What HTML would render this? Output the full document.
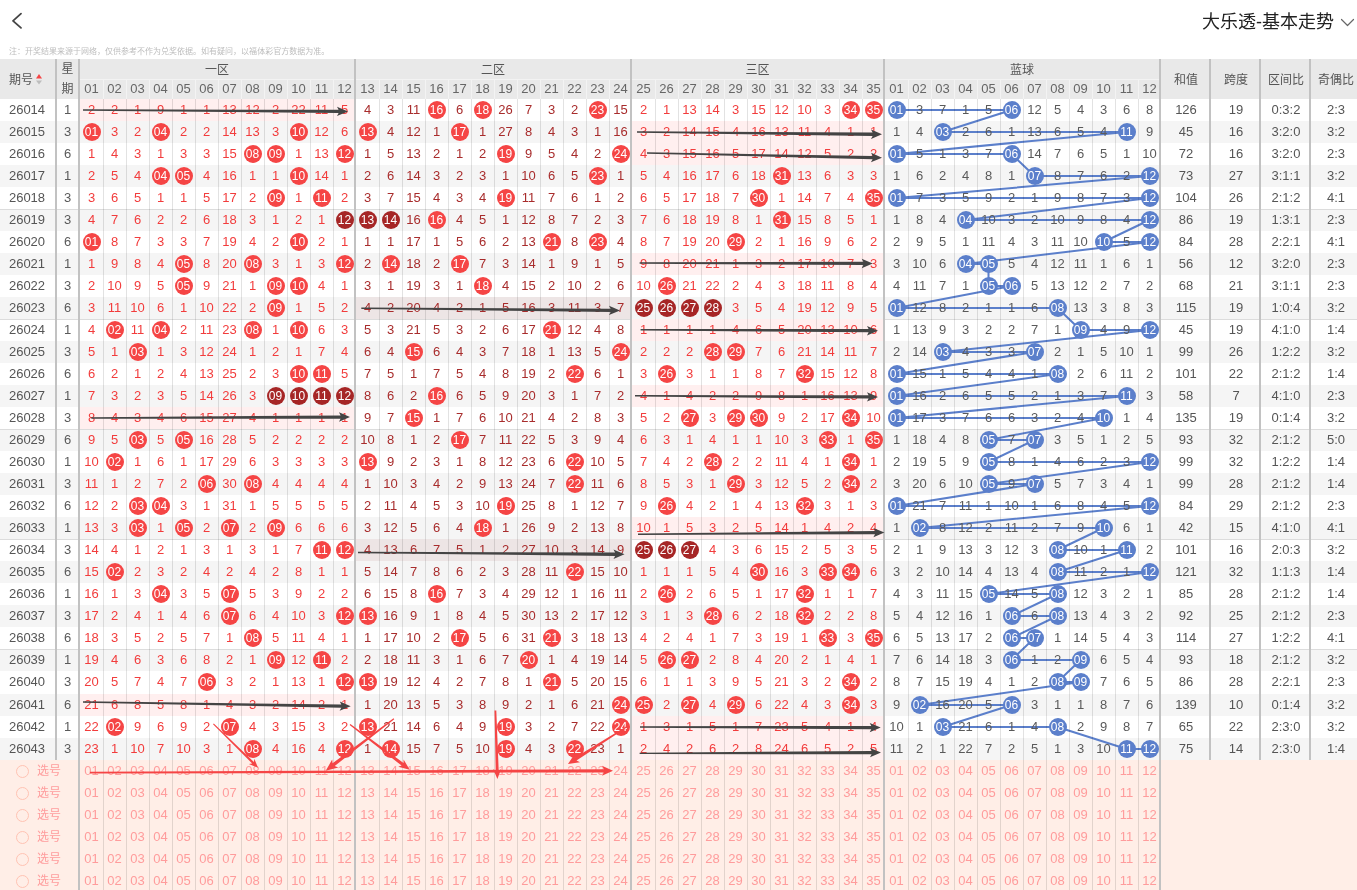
<!DOCTYPE html>
<html lang="zh-CN"><head><meta charset="utf-8"><title>大乐透-基本走势</title>
<style>
html,body{margin:0;padding:0}
body{width:1357px;height:890px;overflow:hidden;background:#fff;position:relative;
 font-family:"Liberation Sans","Noto Sans CJK SC",sans-serif;font-size:13px;color:#444}
.abs{position:absolute}
#title{position:absolute;right:23px;top:8px;height:28px;line-height:28px;font-size:18px;color:#222;white-space:nowrap}
#note{position:absolute;left:9px;top:42px;height:18px;line-height:18px;font-size:12px;color:#bdbdbd;white-space:nowrap;
 transform:scale(.667);transform-origin:0 50%}
#head{position:absolute;left:0;top:59px;width:1361px;height:40px;background:#e9e9e9;color:#555;font-size:12px}
#head .z{position:absolute;top:0;height:20px;line-height:23px;text-align:center}
#head .n{position:absolute;top:20px;height:20px;line-height:20px;width:23px;text-align:center;font-size:13px;color:#666}
#head .st{position:absolute;top:1px;height:40px;line-height:40px;width:50px;text-align:center}
.r{position:absolute;left:0;width:1361px;height:22px;line-height:22px;display:flex;white-space:nowrap}
.sp{position:absolute;left:0;width:1361px;background:#f5f5f5}
.gs{position:absolute;left:0;width:1361px;height:1px;background:#dcdcdc}
.r i{font-style:normal;display:block;width:23px;text-align:center;flex:none}
.r .q{width:54px;margin-right:3px;color:#555}
.r .w{width:21px;margin-right:2px;color:#5a5a5a}
.r .t{width:49px;margin-right:1px;color:#555;position:relative;left:.5px}
.a{color:#f23c3c}
.b{color:#a82c2c}
.c{color:#5a5a5a}
.r b{font-weight:normal;display:block;width:18px;height:18px;line-height:18px;margin:2px auto 0;border-radius:50%;
 color:#fff;font-size:12px;background:#f54545;position:relative;z-index:3;text-align:center}
.r b.d{background:#a62626}
.r b.u{background:#5b7fcb}
.e{background:#ffefef}
.f{background:#ede5e5}
.vl{position:absolute;width:1px;background:rgba(0,0,0,.115)}
.vt{position:absolute;width:2px;background:#c2c2c2;z-index:4}
.hv{position:absolute;width:1px;top:79px;height:20px;background:#f3f3f3}
#sel{position:absolute;left:0;top:760px;width:1357px;height:130px;background:#ffeee7}
.s{position:absolute;left:0;width:1361px;height:22px;line-height:22px;display:flex;color:#ff9c9c;white-space:nowrap}
.s i{font-style:normal;display:block;width:23px;text-align:center;flex:none}
.s .x{width:80px;position:relative;font-size:12px;text-align:left}
.s .x:before{content:"";position:absolute;left:16px;top:5px;width:11px;height:11px;border:1px solid #ffc3b3;border-radius:50%}
.s .x span{position:absolute;left:37px;top:0}
svg{position:absolute;left:0;top:0}
</style></head><body>
<svg width="40" height="40" style="z-index:1"><polyline points="21,13.7 13,20.8 21,27.9" fill="none" stroke="#444" stroke-width="1.8" stroke-linecap="round" stroke-linejoin="round"/></svg>
<div id="title">大乐透-基本走势</div>
<svg width="1357" height="40" style="z-index:1"><polyline points="1341.5,19.5 1347.5,25.5 1353.5,19.5" fill="none" stroke="#666" stroke-width="1.2" stroke-linecap="round" stroke-linejoin="round"/></svg>
<div id="note">注：开奖结果来源于网络，仅供参考不作为兑奖依据。如有疑问，以福体彩官方数据为准。</div>
<div id="head">
<div class="abs" style="left:9px;top:1px;height:40px;line-height:40px">期号</div>
<svg width="60" height="40"><polygon points="36,19.5 42,19.5 39,15" fill="#f54545"/><polygon points="36,21.5 42,21.5 39,25.5" fill="#bdbdbd"/></svg>
<div class="abs" style="left:57px;width:21px;top:0;height:20px;line-height:21px;text-align:center">星</div>
<div class="abs" style="left:57px;width:21px;top:20px;height:20px;line-height:20px;text-align:center">期</div>
<div class="z" style="left:80px;width:274px">一区</div>
<div class="abs" style="left:80px;width:274px;top:20px;height:1px;background:#f3f3f3"></div>
<div class="z" style="left:356px;width:274px">二区</div>
<div class="abs" style="left:356px;width:274px;top:20px;height:1px;background:#f3f3f3"></div>
<div class="z" style="left:632px;width:251px">三区</div>
<div class="abs" style="left:632px;width:251px;top:20px;height:1px;background:#f3f3f3"></div>
<div class="z" style="left:885px;width:274px">蓝球</div>
<div class="abs" style="left:885px;width:274px;top:20px;height:1px;background:#f3f3f3"></div>
<div class="n" style="left:80px">01</div>
<div class="n" style="left:103px">02</div>
<div class="n" style="left:126px">03</div>
<div class="n" style="left:149px">04</div>
<div class="n" style="left:172px">05</div>
<div class="n" style="left:195px">06</div>
<div class="n" style="left:218px">07</div>
<div class="n" style="left:241px">08</div>
<div class="n" style="left:264px">09</div>
<div class="n" style="left:287px">10</div>
<div class="n" style="left:310px">11</div>
<div class="n" style="left:333px">12</div>
<div class="n" style="left:356px">13</div>
<div class="n" style="left:379px">14</div>
<div class="n" style="left:402px">15</div>
<div class="n" style="left:425px">16</div>
<div class="n" style="left:448px">17</div>
<div class="n" style="left:471px">18</div>
<div class="n" style="left:494px">19</div>
<div class="n" style="left:517px">20</div>
<div class="n" style="left:540px">21</div>
<div class="n" style="left:563px">22</div>
<div class="n" style="left:586px">23</div>
<div class="n" style="left:609px">24</div>
<div class="n" style="left:632px">25</div>
<div class="n" style="left:655px">26</div>
<div class="n" style="left:678px">27</div>
<div class="n" style="left:701px">28</div>
<div class="n" style="left:724px">29</div>
<div class="n" style="left:747px">30</div>
<div class="n" style="left:770px">31</div>
<div class="n" style="left:793px">32</div>
<div class="n" style="left:816px">33</div>
<div class="n" style="left:839px">34</div>
<div class="n" style="left:862px">35</div>
<div class="n" style="left:885px">01</div>
<div class="n" style="left:908px">02</div>
<div class="n" style="left:931px">03</div>
<div class="n" style="left:954px">04</div>
<div class="n" style="left:977px">05</div>
<div class="n" style="left:1000px">06</div>
<div class="n" style="left:1023px">07</div>
<div class="n" style="left:1046px">08</div>
<div class="n" style="left:1069px">09</div>
<div class="n" style="left:1092px">10</div>
<div class="n" style="left:1115px">11</div>
<div class="n" style="left:1138px">12</div>
<div class="st" style="left:1161px">和值</div>
<div class="st" style="left:1211px">跨度</div>
<div class="st" style="left:1261px">区间比</div>
<div class="st" style="left:1311px">奇偶比</div>
</div>
<div id="sel"></div>
<div class="sp" style="top:121px;height:22px"></div>
<div class="sp" style="top:165px;height:22px"></div>
<div class="sp" style="top:209px;height:22px"></div>
<div class="gs" style="top:209px"></div>
<div class="sp" style="top:253px;height:22px"></div>
<div class="sp" style="top:297px;height:22px"></div>
<div class="gs" style="top:319px"></div>
<div class="sp" style="top:341px;height:22px"></div>
<div class="sp" style="top:385px;height:22px"></div>
<div class="sp" style="top:429px;height:22px"></div>
<div class="gs" style="top:429px"></div>
<div class="sp" style="top:473px;height:22px"></div>
<div class="sp" style="top:517px;height:22px"></div>
<div class="gs" style="top:539px"></div>
<div class="sp" style="top:561px;height:22px"></div>
<div class="sp" style="top:605px;height:22px"></div>
<div class="sp" style="top:649px;height:22px"></div>
<div class="gs" style="top:649px"></div>
<div class="sp" style="top:694px;height:22px"></div>
<div class="sp" style="top:738px;height:22px"></div>
<svg width="1357" height="890"><polyline fill="none" stroke="#5b7fcb" stroke-width="2" stroke-linejoin="round" points="896.5,110.0 1011.5,110.0 942.5,132.0 1126.5,132.0 896.5,154.0 1011.5,154.0 1034.5,176.0 1149.5,176.0 896.5,198.0 1149.5,198.0 965.5,220.0 1149.5,220.0 1103.5,242.0 1149.5,242.0 965.5,264.0 988.5,264.0 988.5,286.0 1011.5,286.0 896.5,308.0 1057.5,308.0 1080.5,330.0 1149.5,330.0 942.5,352.0 1034.5,352.0 896.5,374.0 1057.5,374.0 896.5,396.0 1126.5,396.0 896.5,418.0 1103.5,418.0 988.5,440.0 1034.5,440.0 988.5,462.0 1149.5,462.0 988.5,484.0 1034.5,484.0 896.5,506.0 1149.5,506.0 919.5,528.0 1103.5,528.0 1057.5,550.0 1126.5,550.0 1057.5,572.0 1149.5,572.0 988.5,594.0 1057.5,594.0 1011.5,616.0 1057.5,616.0 1011.5,638.0 1034.5,638.0 1011.5,660.0 1080.5,660.0 1057.5,682.0 1080.5,682.0 919.5,705.0 1011.5,705.0 942.5,727.0 1057.5,727.0 1126.5,749.0 1149.5,749.0"/></svg>
<div class="r" style="top:99px">
<i class="q">26014</i><i class="w">1</i>
<i class="a e">2</i>
<i class="a e">2</i>
<i class="a e">1</i>
<i class="a e">9</i>
<i class="a e">1</i>
<i class="a e">1</i>
<i class="a e">13</i>
<i class="a e">12</i>
<i class="a e">2</i>
<i class="a e">22</i>
<i class="a e">11</i>
<i class="a e">5</i>
<i class="b">4</i>
<i class="b">3</i>
<i class="b">11</i>
<i><b>16</b></i>
<i class="b">6</i>
<i><b>18</b></i>
<i class="b">26</i>
<i class="b">7</i>
<i class="b">3</i>
<i class="b">2</i>
<i><b>23</b></i>
<i class="b">15</i>
<i class="a">2</i>
<i class="a">1</i>
<i class="a">13</i>
<i class="a">14</i>
<i class="a">3</i>
<i class="a">15</i>
<i class="a">12</i>
<i class="a">10</i>
<i class="a">3</i>
<i><b>34</b></i>
<i><b>35</b></i>
<i><b class="u">01</b></i>
<i class="c">3</i>
<i class="c">7</i>
<i class="c">1</i>
<i class="c">5</i>
<i><b class="u">06</b></i>
<i class="c">12</i>
<i class="c">5</i>
<i class="c">4</i>
<i class="c">3</i>
<i class="c">6</i>
<i class="c">8</i>
<i class="t">126</i><i class="t">19</i><i class="t">0:3:2</i><i class="t">2:3</i>
</div>
<div class="r" style="top:121px">
<i class="q">26015</i><i class="w">3</i>
<i><b>01</b></i>
<i class="a">3</i>
<i class="a">2</i>
<i><b>04</b></i>
<i class="a">2</i>
<i class="a">2</i>
<i class="a">14</i>
<i class="a">13</i>
<i class="a">3</i>
<i><b>10</b></i>
<i class="a">12</i>
<i class="a">6</i>
<i><b>13</b></i>
<i class="b">4</i>
<i class="b">12</i>
<i class="b">1</i>
<i><b>17</b></i>
<i class="b">1</i>
<i class="b">27</i>
<i class="b">8</i>
<i class="b">4</i>
<i class="b">3</i>
<i class="b">1</i>
<i class="b">16</i>
<i class="a e">3</i>
<i class="a e">2</i>
<i class="a e">14</i>
<i class="a e">15</i>
<i class="a e">4</i>
<i class="a e">16</i>
<i class="a e">13</i>
<i class="a e">11</i>
<i class="a e">4</i>
<i class="a e">1</i>
<i class="a e">1</i>
<i class="c">1</i>
<i class="c">4</i>
<i><b class="u">03</b></i>
<i class="c">2</i>
<i class="c">6</i>
<i class="c">1</i>
<i class="c">13</i>
<i class="c">6</i>
<i class="c">5</i>
<i class="c">4</i>
<i><b class="u">11</b></i>
<i class="c">9</i>
<i class="t">45</i><i class="t">16</i><i class="t">3:2:0</i><i class="t">3:2</i>
</div>
<div class="r" style="top:143px">
<i class="q">26016</i><i class="w">6</i>
<i class="a">1</i>
<i class="a">4</i>
<i class="a">3</i>
<i class="a">1</i>
<i class="a">3</i>
<i class="a">3</i>
<i class="a">15</i>
<i><b>08</b></i>
<i><b>09</b></i>
<i class="a">1</i>
<i class="a">13</i>
<i><b>12</b></i>
<i class="b">1</i>
<i class="b">5</i>
<i class="b">13</i>
<i class="b">2</i>
<i class="b">1</i>
<i class="b">2</i>
<i><b>19</b></i>
<i class="b">9</i>
<i class="b">5</i>
<i class="b">4</i>
<i class="b">2</i>
<i><b>24</b></i>
<i class="a e">4</i>
<i class="a e">3</i>
<i class="a e">15</i>
<i class="a e">16</i>
<i class="a e">5</i>
<i class="a e">17</i>
<i class="a e">14</i>
<i class="a e">12</i>
<i class="a e">5</i>
<i class="a e">2</i>
<i class="a e">2</i>
<i><b class="u">01</b></i>
<i class="c">5</i>
<i class="c">1</i>
<i class="c">3</i>
<i class="c">7</i>
<i><b class="u">06</b></i>
<i class="c">14</i>
<i class="c">7</i>
<i class="c">6</i>
<i class="c">5</i>
<i class="c">1</i>
<i class="c">10</i>
<i class="t">72</i><i class="t">16</i><i class="t">3:2:0</i><i class="t">2:3</i>
</div>
<div class="r" style="top:165px">
<i class="q">26017</i><i class="w">1</i>
<i class="a">2</i>
<i class="a">5</i>
<i class="a">4</i>
<i><b>04</b></i>
<i><b>05</b></i>
<i class="a">4</i>
<i class="a">16</i>
<i class="a">1</i>
<i class="a">1</i>
<i><b>10</b></i>
<i class="a">14</i>
<i class="a">1</i>
<i class="b">2</i>
<i class="b">6</i>
<i class="b">14</i>
<i class="b">3</i>
<i class="b">2</i>
<i class="b">3</i>
<i class="b">1</i>
<i class="b">10</i>
<i class="b">6</i>
<i class="b">5</i>
<i><b>23</b></i>
<i class="b">1</i>
<i class="a">5</i>
<i class="a">4</i>
<i class="a">16</i>
<i class="a">17</i>
<i class="a">6</i>
<i class="a">18</i>
<i><b>31</b></i>
<i class="a">13</i>
<i class="a">6</i>
<i class="a">3</i>
<i class="a">3</i>
<i class="c">1</i>
<i class="c">6</i>
<i class="c">2</i>
<i class="c">4</i>
<i class="c">8</i>
<i class="c">1</i>
<i><b class="u">07</b></i>
<i class="c">8</i>
<i class="c">7</i>
<i class="c">6</i>
<i class="c">2</i>
<i><b class="u">12</b></i>
<i class="t">73</i><i class="t">27</i><i class="t">3:1:1</i><i class="t">3:2</i>
</div>
<div class="r" style="top:187px">
<i class="q">26018</i><i class="w">3</i>
<i class="a">3</i>
<i class="a">6</i>
<i class="a">5</i>
<i class="a">1</i>
<i class="a">1</i>
<i class="a">5</i>
<i class="a">17</i>
<i class="a">2</i>
<i><b>09</b></i>
<i class="a">1</i>
<i><b>11</b></i>
<i class="a">2</i>
<i class="b">3</i>
<i class="b">7</i>
<i class="b">15</i>
<i class="b">4</i>
<i class="b">3</i>
<i class="b">4</i>
<i><b>19</b></i>
<i class="b">11</i>
<i class="b">7</i>
<i class="b">6</i>
<i class="b">1</i>
<i class="b">2</i>
<i class="a">6</i>
<i class="a">5</i>
<i class="a">17</i>
<i class="a">18</i>
<i class="a">7</i>
<i><b>30</b></i>
<i class="a">1</i>
<i class="a">14</i>
<i class="a">7</i>
<i class="a">4</i>
<i><b>35</b></i>
<i><b class="u">01</b></i>
<i class="c">7</i>
<i class="c">3</i>
<i class="c">5</i>
<i class="c">9</i>
<i class="c">2</i>
<i class="c">1</i>
<i class="c">9</i>
<i class="c">8</i>
<i class="c">7</i>
<i class="c">3</i>
<i><b class="u">12</b></i>
<i class="t">104</i><i class="t">26</i><i class="t">2:1:2</i><i class="t">4:1</i>
</div>
<div class="r" style="top:209px">
<i class="q">26019</i><i class="w">3</i>
<i class="a">4</i>
<i class="a">7</i>
<i class="a">6</i>
<i class="a">2</i>
<i class="a">2</i>
<i class="a">6</i>
<i class="a">18</i>
<i class="a">3</i>
<i class="a">1</i>
<i class="a">2</i>
<i class="a">1</i>
<i><b class="d">12</b></i>
<i><b class="d">13</b></i>
<i><b class="d">14</b></i>
<i class="b">16</i>
<i><b>16</b></i>
<i class="b">4</i>
<i class="b">5</i>
<i class="b">1</i>
<i class="b">12</i>
<i class="b">8</i>
<i class="b">7</i>
<i class="b">2</i>
<i class="b">3</i>
<i class="a">7</i>
<i class="a">6</i>
<i class="a">18</i>
<i class="a">19</i>
<i class="a">8</i>
<i class="a">1</i>
<i><b>31</b></i>
<i class="a">15</i>
<i class="a">8</i>
<i class="a">5</i>
<i class="a">1</i>
<i class="c">1</i>
<i class="c">8</i>
<i class="c">4</i>
<i><b class="u">04</b></i>
<i class="c">10</i>
<i class="c">3</i>
<i class="c">2</i>
<i class="c">10</i>
<i class="c">9</i>
<i class="c">8</i>
<i class="c">4</i>
<i><b class="u">12</b></i>
<i class="t">86</i><i class="t">19</i><i class="t">1:3:1</i><i class="t">2:3</i>
</div>
<div class="r" style="top:231px">
<i class="q">26020</i><i class="w">6</i>
<i><b>01</b></i>
<i class="a">8</i>
<i class="a">7</i>
<i class="a">3</i>
<i class="a">3</i>
<i class="a">7</i>
<i class="a">19</i>
<i class="a">4</i>
<i class="a">2</i>
<i><b>10</b></i>
<i class="a">2</i>
<i class="a">1</i>
<i class="b">1</i>
<i class="b">1</i>
<i class="b">17</i>
<i class="b">1</i>
<i class="b">5</i>
<i class="b">6</i>
<i class="b">2</i>
<i class="b">13</i>
<i><b>21</b></i>
<i class="b">8</i>
<i><b>23</b></i>
<i class="b">4</i>
<i class="a">8</i>
<i class="a">7</i>
<i class="a">19</i>
<i class="a">20</i>
<i><b>29</b></i>
<i class="a">2</i>
<i class="a">1</i>
<i class="a">16</i>
<i class="a">9</i>
<i class="a">6</i>
<i class="a">2</i>
<i class="c">2</i>
<i class="c">9</i>
<i class="c">5</i>
<i class="c">1</i>
<i class="c">11</i>
<i class="c">4</i>
<i class="c">3</i>
<i class="c">11</i>
<i class="c">10</i>
<i><b class="u">10</b></i>
<i class="c">5</i>
<i><b class="u">12</b></i>
<i class="t">84</i><i class="t">28</i><i class="t">2:2:1</i><i class="t">4:1</i>
</div>
<div class="r" style="top:253px">
<i class="q">26021</i><i class="w">1</i>
<i class="a">1</i>
<i class="a">9</i>
<i class="a">8</i>
<i class="a">4</i>
<i><b>05</b></i>
<i class="a">8</i>
<i class="a">20</i>
<i><b>08</b></i>
<i class="a">3</i>
<i class="a">1</i>
<i class="a">3</i>
<i><b>12</b></i>
<i class="b">2</i>
<i><b>14</b></i>
<i class="b">18</i>
<i class="b">2</i>
<i><b>17</b></i>
<i class="b">7</i>
<i class="b">3</i>
<i class="b">14</i>
<i class="b">1</i>
<i class="b">9</i>
<i class="b">1</i>
<i class="b">5</i>
<i class="a e">9</i>
<i class="a e">8</i>
<i class="a e">20</i>
<i class="a e">21</i>
<i class="a e">1</i>
<i class="a e">3</i>
<i class="a e">2</i>
<i class="a e">17</i>
<i class="a e">10</i>
<i class="a e">7</i>
<i class="a e">3</i>
<i class="c">3</i>
<i class="c">10</i>
<i class="c">6</i>
<i><b class="u">04</b></i>
<i><b class="u">05</b></i>
<i class="c">5</i>
<i class="c">4</i>
<i class="c">12</i>
<i class="c">11</i>
<i class="c">1</i>
<i class="c">6</i>
<i class="c">1</i>
<i class="t">56</i><i class="t">12</i><i class="t">3:2:0</i><i class="t">2:3</i>
</div>
<div class="r" style="top:275px">
<i class="q">26022</i><i class="w">3</i>
<i class="a">2</i>
<i class="a">10</i>
<i class="a">9</i>
<i class="a">5</i>
<i><b>05</b></i>
<i class="a">9</i>
<i class="a">21</i>
<i class="a">1</i>
<i><b>09</b></i>
<i><b>10</b></i>
<i class="a">4</i>
<i class="a">1</i>
<i class="b">3</i>
<i class="b">1</i>
<i class="b">19</i>
<i class="b">3</i>
<i class="b">1</i>
<i><b>18</b></i>
<i class="b">4</i>
<i class="b">15</i>
<i class="b">2</i>
<i class="b">10</i>
<i class="b">2</i>
<i class="b">6</i>
<i class="a">10</i>
<i><b>26</b></i>
<i class="a">21</i>
<i class="a">22</i>
<i class="a">2</i>
<i class="a">4</i>
<i class="a">3</i>
<i class="a">18</i>
<i class="a">11</i>
<i class="a">8</i>
<i class="a">4</i>
<i class="c">4</i>
<i class="c">11</i>
<i class="c">7</i>
<i class="c">1</i>
<i><b class="u">05</b></i>
<i><b class="u">06</b></i>
<i class="c">5</i>
<i class="c">13</i>
<i class="c">12</i>
<i class="c">2</i>
<i class="c">7</i>
<i class="c">2</i>
<i class="t">68</i><i class="t">21</i><i class="t">3:1:1</i><i class="t">2:3</i>
</div>
<div class="r" style="top:297px">
<i class="q">26023</i><i class="w">6</i>
<i class="a">3</i>
<i class="a">11</i>
<i class="a">10</i>
<i class="a">6</i>
<i class="a">1</i>
<i class="a">10</i>
<i class="a">22</i>
<i class="a">2</i>
<i><b>09</b></i>
<i class="a">1</i>
<i class="a">5</i>
<i class="a">2</i>
<i class="b f">4</i>
<i class="b f">2</i>
<i class="b f">20</i>
<i class="b f">4</i>
<i class="b f">2</i>
<i class="b f">1</i>
<i class="b f">5</i>
<i class="b f">16</i>
<i class="b f">3</i>
<i class="b f">11</i>
<i class="b f">3</i>
<i class="b f">7</i>
<i><b class="d">25</b></i>
<i><b class="d">26</b></i>
<i><b class="d">27</b></i>
<i><b class="d">28</b></i>
<i class="a">3</i>
<i class="a">5</i>
<i class="a">4</i>
<i class="a">19</i>
<i class="a">12</i>
<i class="a">9</i>
<i class="a">5</i>
<i><b class="u">01</b></i>
<i class="c">12</i>
<i class="c">8</i>
<i class="c">2</i>
<i class="c">1</i>
<i class="c">1</i>
<i class="c">6</i>
<i><b class="u">08</b></i>
<i class="c">13</i>
<i class="c">3</i>
<i class="c">8</i>
<i class="c">3</i>
<i class="t">115</i><i class="t">19</i><i class="t">1:0:4</i><i class="t">3:2</i>
</div>
<div class="r" style="top:319px">
<i class="q">26024</i><i class="w">1</i>
<i class="a">4</i>
<i><b>02</b></i>
<i class="a">11</i>
<i><b>04</b></i>
<i class="a">2</i>
<i class="a">11</i>
<i class="a">23</i>
<i><b>08</b></i>
<i class="a">1</i>
<i><b>10</b></i>
<i class="a">6</i>
<i class="a">3</i>
<i class="b">5</i>
<i class="b">3</i>
<i class="b">21</i>
<i class="b">5</i>
<i class="b">3</i>
<i class="b">2</i>
<i class="b">6</i>
<i class="b">17</i>
<i><b>21</b></i>
<i class="b">12</i>
<i class="b">4</i>
<i class="b">8</i>
<i class="a e">1</i>
<i class="a e">1</i>
<i class="a e">1</i>
<i class="a e">1</i>
<i class="a e">4</i>
<i class="a e">6</i>
<i class="a e">5</i>
<i class="a e">20</i>
<i class="a e">13</i>
<i class="a e">10</i>
<i class="a e">6</i>
<i class="c">1</i>
<i class="c">13</i>
<i class="c">9</i>
<i class="c">3</i>
<i class="c">2</i>
<i class="c">2</i>
<i class="c">7</i>
<i class="c">1</i>
<i><b class="u">09</b></i>
<i class="c">4</i>
<i class="c">9</i>
<i><b class="u">12</b></i>
<i class="t">45</i><i class="t">19</i><i class="t">4:1:0</i><i class="t">1:4</i>
</div>
<div class="r" style="top:341px">
<i class="q">26025</i><i class="w">3</i>
<i class="a">5</i>
<i class="a">1</i>
<i><b>03</b></i>
<i class="a">1</i>
<i class="a">3</i>
<i class="a">12</i>
<i class="a">24</i>
<i class="a">1</i>
<i class="a">2</i>
<i class="a">1</i>
<i class="a">7</i>
<i class="a">4</i>
<i class="b">6</i>
<i class="b">4</i>
<i><b>15</b></i>
<i class="b">6</i>
<i class="b">4</i>
<i class="b">3</i>
<i class="b">7</i>
<i class="b">18</i>
<i class="b">1</i>
<i class="b">13</i>
<i class="b">5</i>
<i><b>24</b></i>
<i class="a">2</i>
<i class="a">2</i>
<i class="a">2</i>
<i><b>28</b></i>
<i><b>29</b></i>
<i class="a">7</i>
<i class="a">6</i>
<i class="a">21</i>
<i class="a">14</i>
<i class="a">11</i>
<i class="a">7</i>
<i class="c">2</i>
<i class="c">14</i>
<i><b class="u">03</b></i>
<i class="c">4</i>
<i class="c">3</i>
<i class="c">3</i>
<i><b class="u">07</b></i>
<i class="c">2</i>
<i class="c">1</i>
<i class="c">5</i>
<i class="c">10</i>
<i class="c">1</i>
<i class="t">99</i><i class="t">26</i><i class="t">1:2:2</i><i class="t">3:2</i>
</div>
<div class="r" style="top:363px">
<i class="q">26026</i><i class="w">6</i>
<i class="a">6</i>
<i class="a">2</i>
<i class="a">1</i>
<i class="a">2</i>
<i class="a">4</i>
<i class="a">13</i>
<i class="a">25</i>
<i class="a">2</i>
<i class="a">3</i>
<i><b>10</b></i>
<i><b>11</b></i>
<i class="a">5</i>
<i class="b">7</i>
<i class="b">5</i>
<i class="b">1</i>
<i class="b">7</i>
<i class="b">5</i>
<i class="b">4</i>
<i class="b">8</i>
<i class="b">19</i>
<i class="b">2</i>
<i><b>22</b></i>
<i class="b">6</i>
<i class="b">1</i>
<i class="a">3</i>
<i><b>26</b></i>
<i class="a">3</i>
<i class="a">1</i>
<i class="a">1</i>
<i class="a">8</i>
<i class="a">7</i>
<i><b>32</b></i>
<i class="a">15</i>
<i class="a">12</i>
<i class="a">8</i>
<i><b class="u">01</b></i>
<i class="c">15</i>
<i class="c">1</i>
<i class="c">5</i>
<i class="c">4</i>
<i class="c">4</i>
<i class="c">1</i>
<i><b class="u">08</b></i>
<i class="c">2</i>
<i class="c">6</i>
<i class="c">11</i>
<i class="c">2</i>
<i class="t">101</i><i class="t">22</i><i class="t">2:1:2</i><i class="t">1:4</i>
</div>
<div class="r" style="top:385px">
<i class="q">26027</i><i class="w">1</i>
<i class="a">7</i>
<i class="a">3</i>
<i class="a">2</i>
<i class="a">3</i>
<i class="a">5</i>
<i class="a">14</i>
<i class="a">26</i>
<i class="a">3</i>
<i><b class="d">09</b></i>
<i><b class="d">10</b></i>
<i><b class="d">11</b></i>
<i><b class="d">12</b></i>
<i class="b">8</i>
<i class="b">6</i>
<i class="b">2</i>
<i><b>16</b></i>
<i class="b">6</i>
<i class="b">5</i>
<i class="b">9</i>
<i class="b">20</i>
<i class="b">3</i>
<i class="b">1</i>
<i class="b">7</i>
<i class="b">2</i>
<i class="a e">4</i>
<i class="a e">1</i>
<i class="a e">4</i>
<i class="a e">2</i>
<i class="a e">2</i>
<i class="a e">9</i>
<i class="a e">8</i>
<i class="a e">1</i>
<i class="a e">16</i>
<i class="a e">13</i>
<i class="a e">9</i>
<i><b class="u">01</b></i>
<i class="c">16</i>
<i class="c">2</i>
<i class="c">6</i>
<i class="c">5</i>
<i class="c">5</i>
<i class="c">2</i>
<i class="c">1</i>
<i class="c">3</i>
<i class="c">7</i>
<i><b class="u">11</b></i>
<i class="c">3</i>
<i class="t">58</i><i class="t">7</i><i class="t">4:1:0</i><i class="t">2:3</i>
</div>
<div class="r" style="top:407px">
<i class="q">26028</i><i class="w">3</i>
<i class="a e">8</i>
<i class="a e">4</i>
<i class="a e">3</i>
<i class="a e">4</i>
<i class="a e">6</i>
<i class="a e">15</i>
<i class="a e">27</i>
<i class="a e">4</i>
<i class="a e">1</i>
<i class="a e">1</i>
<i class="a e">1</i>
<i class="a e">1</i>
<i class="b">9</i>
<i class="b">7</i>
<i><b>15</b></i>
<i class="b">1</i>
<i class="b">7</i>
<i class="b">6</i>
<i class="b">10</i>
<i class="b">21</i>
<i class="b">4</i>
<i class="b">2</i>
<i class="b">8</i>
<i class="b">3</i>
<i class="a">5</i>
<i class="a">2</i>
<i><b>27</b></i>
<i class="a">3</i>
<i><b>29</b></i>
<i><b>30</b></i>
<i class="a">9</i>
<i class="a">2</i>
<i class="a">17</i>
<i><b>34</b></i>
<i class="a">10</i>
<i><b class="u">01</b></i>
<i class="c">17</i>
<i class="c">3</i>
<i class="c">7</i>
<i class="c">6</i>
<i class="c">6</i>
<i class="c">3</i>
<i class="c">2</i>
<i class="c">4</i>
<i><b class="u">10</b></i>
<i class="c">1</i>
<i class="c">4</i>
<i class="t">135</i><i class="t">19</i><i class="t">0:1:4</i><i class="t">3:2</i>
</div>
<div class="r" style="top:429px">
<i class="q">26029</i><i class="w">6</i>
<i class="a">9</i>
<i class="a">5</i>
<i><b>03</b></i>
<i class="a">5</i>
<i><b>05</b></i>
<i class="a">16</i>
<i class="a">28</i>
<i class="a">5</i>
<i class="a">2</i>
<i class="a">2</i>
<i class="a">2</i>
<i class="a">2</i>
<i class="b">10</i>
<i class="b">8</i>
<i class="b">1</i>
<i class="b">2</i>
<i><b>17</b></i>
<i class="b">7</i>
<i class="b">11</i>
<i class="b">22</i>
<i class="b">5</i>
<i class="b">3</i>
<i class="b">9</i>
<i class="b">4</i>
<i class="a">6</i>
<i class="a">3</i>
<i class="a">1</i>
<i class="a">4</i>
<i class="a">1</i>
<i class="a">1</i>
<i class="a">10</i>
<i class="a">3</i>
<i><b>33</b></i>
<i class="a">1</i>
<i><b>35</b></i>
<i class="c">1</i>
<i class="c">18</i>
<i class="c">4</i>
<i class="c">8</i>
<i><b class="u">05</b></i>
<i class="c">7</i>
<i><b class="u">07</b></i>
<i class="c">3</i>
<i class="c">5</i>
<i class="c">1</i>
<i class="c">2</i>
<i class="c">5</i>
<i class="t">93</i><i class="t">32</i><i class="t">2:1:2</i><i class="t">5:0</i>
</div>
<div class="r" style="top:451px">
<i class="q">26030</i><i class="w">1</i>
<i class="a">10</i>
<i><b>02</b></i>
<i class="a">1</i>
<i class="a">6</i>
<i class="a">1</i>
<i class="a">17</i>
<i class="a">29</i>
<i class="a">6</i>
<i class="a">3</i>
<i class="a">3</i>
<i class="a">3</i>
<i class="a">3</i>
<i><b>13</b></i>
<i class="b">9</i>
<i class="b">2</i>
<i class="b">3</i>
<i class="b">1</i>
<i class="b">8</i>
<i class="b">12</i>
<i class="b">23</i>
<i class="b">6</i>
<i><b>22</b></i>
<i class="b">10</i>
<i class="b">5</i>
<i class="a">7</i>
<i class="a">4</i>
<i class="a">2</i>
<i><b>28</b></i>
<i class="a">2</i>
<i class="a">2</i>
<i class="a">11</i>
<i class="a">4</i>
<i class="a">1</i>
<i><b>34</b></i>
<i class="a">1</i>
<i class="c">2</i>
<i class="c">19</i>
<i class="c">5</i>
<i class="c">9</i>
<i><b class="u">05</b></i>
<i class="c">8</i>
<i class="c">1</i>
<i class="c">4</i>
<i class="c">6</i>
<i class="c">2</i>
<i class="c">3</i>
<i><b class="u">12</b></i>
<i class="t">99</i><i class="t">32</i><i class="t">1:2:2</i><i class="t">1:4</i>
</div>
<div class="r" style="top:473px">
<i class="q">26031</i><i class="w">3</i>
<i class="a">11</i>
<i class="a">1</i>
<i class="a">2</i>
<i class="a">7</i>
<i class="a">2</i>
<i><b>06</b></i>
<i class="a">30</i>
<i><b>08</b></i>
<i class="a">4</i>
<i class="a">4</i>
<i class="a">4</i>
<i class="a">4</i>
<i class="b">1</i>
<i class="b">10</i>
<i class="b">3</i>
<i class="b">4</i>
<i class="b">2</i>
<i class="b">9</i>
<i class="b">13</i>
<i class="b">24</i>
<i class="b">7</i>
<i><b>22</b></i>
<i class="b">11</i>
<i class="b">6</i>
<i class="a">8</i>
<i class="a">5</i>
<i class="a">3</i>
<i class="a">1</i>
<i><b>29</b></i>
<i class="a">3</i>
<i class="a">12</i>
<i class="a">5</i>
<i class="a">2</i>
<i><b>34</b></i>
<i class="a">2</i>
<i class="c">3</i>
<i class="c">20</i>
<i class="c">6</i>
<i class="c">10</i>
<i><b class="u">05</b></i>
<i class="c">9</i>
<i><b class="u">07</b></i>
<i class="c">5</i>
<i class="c">7</i>
<i class="c">3</i>
<i class="c">4</i>
<i class="c">1</i>
<i class="t">99</i><i class="t">28</i><i class="t">2:1:2</i><i class="t">1:4</i>
</div>
<div class="r" style="top:495px">
<i class="q">26032</i><i class="w">6</i>
<i class="a">12</i>
<i class="a">2</i>
<i><b>03</b></i>
<i><b>04</b></i>
<i class="a">3</i>
<i class="a">1</i>
<i class="a">31</i>
<i class="a">1</i>
<i class="a">5</i>
<i class="a">5</i>
<i class="a">5</i>
<i class="a">5</i>
<i class="b">2</i>
<i class="b">11</i>
<i class="b">4</i>
<i class="b">5</i>
<i class="b">3</i>
<i class="b">10</i>
<i><b>19</b></i>
<i class="b">25</i>
<i class="b">8</i>
<i class="b">1</i>
<i class="b">12</i>
<i class="b">7</i>
<i class="a">9</i>
<i><b>26</b></i>
<i class="a">4</i>
<i class="a">2</i>
<i class="a">1</i>
<i class="a">4</i>
<i class="a">13</i>
<i><b>32</b></i>
<i class="a">3</i>
<i class="a">1</i>
<i class="a">3</i>
<i><b class="u">01</b></i>
<i class="c">21</i>
<i class="c">7</i>
<i class="c">11</i>
<i class="c">1</i>
<i class="c">10</i>
<i class="c">1</i>
<i class="c">6</i>
<i class="c">8</i>
<i class="c">4</i>
<i class="c">5</i>
<i><b class="u">12</b></i>
<i class="t">84</i><i class="t">29</i><i class="t">2:1:2</i><i class="t">2:3</i>
</div>
<div class="r" style="top:517px">
<i class="q">26033</i><i class="w">1</i>
<i class="a">13</i>
<i class="a">3</i>
<i><b>03</b></i>
<i class="a">1</i>
<i><b>05</b></i>
<i class="a">2</i>
<i><b>07</b></i>
<i class="a">2</i>
<i><b>09</b></i>
<i class="a">6</i>
<i class="a">6</i>
<i class="a">6</i>
<i class="b">3</i>
<i class="b">12</i>
<i class="b">5</i>
<i class="b">6</i>
<i class="b">4</i>
<i><b>18</b></i>
<i class="b">1</i>
<i class="b">26</i>
<i class="b">9</i>
<i class="b">2</i>
<i class="b">13</i>
<i class="b">8</i>
<i class="a e">10</i>
<i class="a e">1</i>
<i class="a e">5</i>
<i class="a e">3</i>
<i class="a e">2</i>
<i class="a e">5</i>
<i class="a e">14</i>
<i class="a e">1</i>
<i class="a e">4</i>
<i class="a e">2</i>
<i class="a e">4</i>
<i class="c">1</i>
<i><b class="u">02</b></i>
<i class="c">8</i>
<i class="c">12</i>
<i class="c">2</i>
<i class="c">11</i>
<i class="c">2</i>
<i class="c">7</i>
<i class="c">9</i>
<i><b class="u">10</b></i>
<i class="c">6</i>
<i class="c">1</i>
<i class="t">42</i><i class="t">15</i><i class="t">4:1:0</i><i class="t">4:1</i>
</div>
<div class="r" style="top:539px">
<i class="q">26034</i><i class="w">3</i>
<i class="a">14</i>
<i class="a">4</i>
<i class="a">1</i>
<i class="a">2</i>
<i class="a">1</i>
<i class="a">3</i>
<i class="a">1</i>
<i class="a">3</i>
<i class="a">1</i>
<i class="a">7</i>
<i><b>11</b></i>
<i><b>12</b></i>
<i class="b f">4</i>
<i class="b f">13</i>
<i class="b f">6</i>
<i class="b f">7</i>
<i class="b f">5</i>
<i class="b f">1</i>
<i class="b f">2</i>
<i class="b f">27</i>
<i class="b f">10</i>
<i class="b f">3</i>
<i class="b f">14</i>
<i class="b f">9</i>
<i><b class="d">25</b></i>
<i><b class="d">26</b></i>
<i><b class="d">27</b></i>
<i class="a">4</i>
<i class="a">3</i>
<i class="a">6</i>
<i class="a">15</i>
<i class="a">2</i>
<i class="a">5</i>
<i class="a">3</i>
<i class="a">5</i>
<i class="c">2</i>
<i class="c">1</i>
<i class="c">9</i>
<i class="c">13</i>
<i class="c">3</i>
<i class="c">12</i>
<i class="c">3</i>
<i><b class="u">08</b></i>
<i class="c">10</i>
<i class="c">1</i>
<i><b class="u">11</b></i>
<i class="c">2</i>
<i class="t">101</i><i class="t">16</i><i class="t">2:0:3</i><i class="t">3:2</i>
</div>
<div class="r" style="top:561px">
<i class="q">26035</i><i class="w">6</i>
<i class="a">15</i>
<i><b>02</b></i>
<i class="a">2</i>
<i class="a">3</i>
<i class="a">2</i>
<i class="a">4</i>
<i class="a">2</i>
<i class="a">4</i>
<i class="a">2</i>
<i class="a">8</i>
<i class="a">1</i>
<i class="a">1</i>
<i class="b">5</i>
<i class="b">14</i>
<i class="b">7</i>
<i class="b">8</i>
<i class="b">6</i>
<i class="b">2</i>
<i class="b">3</i>
<i class="b">28</i>
<i class="b">11</i>
<i><b>22</b></i>
<i class="b">15</i>
<i class="b">10</i>
<i class="a">1</i>
<i class="a">1</i>
<i class="a">1</i>
<i class="a">5</i>
<i class="a">4</i>
<i><b>30</b></i>
<i class="a">16</i>
<i class="a">3</i>
<i><b>33</b></i>
<i><b>34</b></i>
<i class="a">6</i>
<i class="c">3</i>
<i class="c">2</i>
<i class="c">10</i>
<i class="c">14</i>
<i class="c">4</i>
<i class="c">13</i>
<i class="c">4</i>
<i><b class="u">08</b></i>
<i class="c">11</i>
<i class="c">2</i>
<i class="c">1</i>
<i><b class="u">12</b></i>
<i class="t">121</i><i class="t">32</i><i class="t">1:1:3</i><i class="t">1:4</i>
</div>
<div class="r" style="top:583px">
<i class="q">26036</i><i class="w">1</i>
<i class="a">16</i>
<i class="a">1</i>
<i class="a">3</i>
<i><b>04</b></i>
<i class="a">3</i>
<i class="a">5</i>
<i><b>07</b></i>
<i class="a">5</i>
<i class="a">3</i>
<i class="a">9</i>
<i class="a">2</i>
<i class="a">2</i>
<i class="b">6</i>
<i class="b">15</i>
<i class="b">8</i>
<i><b>16</b></i>
<i class="b">7</i>
<i class="b">3</i>
<i class="b">4</i>
<i class="b">29</i>
<i class="b">12</i>
<i class="b">1</i>
<i class="b">16</i>
<i class="b">11</i>
<i class="a">2</i>
<i><b>26</b></i>
<i class="a">2</i>
<i class="a">6</i>
<i class="a">5</i>
<i class="a">1</i>
<i class="a">17</i>
<i><b>32</b></i>
<i class="a">1</i>
<i class="a">1</i>
<i class="a">7</i>
<i class="c">4</i>
<i class="c">3</i>
<i class="c">11</i>
<i class="c">15</i>
<i><b class="u">05</b></i>
<i class="c">14</i>
<i class="c">5</i>
<i><b class="u">08</b></i>
<i class="c">12</i>
<i class="c">3</i>
<i class="c">2</i>
<i class="c">1</i>
<i class="t">85</i><i class="t">28</i><i class="t">2:1:2</i><i class="t">1:4</i>
</div>
<div class="r" style="top:605px">
<i class="q">26037</i><i class="w">3</i>
<i class="a">17</i>
<i class="a">2</i>
<i class="a">4</i>
<i class="a">1</i>
<i class="a">4</i>
<i class="a">6</i>
<i><b>07</b></i>
<i class="a">6</i>
<i class="a">4</i>
<i class="a">10</i>
<i class="a">3</i>
<i><b>12</b></i>
<i><b>13</b></i>
<i class="b">16</i>
<i class="b">9</i>
<i class="b">1</i>
<i class="b">8</i>
<i class="b">4</i>
<i class="b">5</i>
<i class="b">30</i>
<i class="b">13</i>
<i class="b">2</i>
<i class="b">17</i>
<i class="b">12</i>
<i class="a">3</i>
<i class="a">1</i>
<i class="a">3</i>
<i><b>28</b></i>
<i class="a">6</i>
<i class="a">2</i>
<i class="a">18</i>
<i><b>32</b></i>
<i class="a">2</i>
<i class="a">2</i>
<i class="a">8</i>
<i class="c">5</i>
<i class="c">4</i>
<i class="c">12</i>
<i class="c">16</i>
<i class="c">1</i>
<i><b class="u">06</b></i>
<i class="c">6</i>
<i><b class="u">08</b></i>
<i class="c">13</i>
<i class="c">4</i>
<i class="c">3</i>
<i class="c">2</i>
<i class="t">92</i><i class="t">25</i><i class="t">2:1:2</i><i class="t">2:3</i>
</div>
<div class="r" style="top:627px">
<i class="q">26038</i><i class="w">6</i>
<i class="a">18</i>
<i class="a">3</i>
<i class="a">5</i>
<i class="a">2</i>
<i class="a">5</i>
<i class="a">7</i>
<i class="a">1</i>
<i><b>08</b></i>
<i class="a">5</i>
<i class="a">11</i>
<i class="a">4</i>
<i class="a">1</i>
<i class="b">1</i>
<i class="b">17</i>
<i class="b">10</i>
<i class="b">2</i>
<i><b>17</b></i>
<i class="b">5</i>
<i class="b">6</i>
<i class="b">31</i>
<i><b>21</b></i>
<i class="b">3</i>
<i class="b">18</i>
<i class="b">13</i>
<i class="a">4</i>
<i class="a">2</i>
<i class="a">4</i>
<i class="a">1</i>
<i class="a">7</i>
<i class="a">3</i>
<i class="a">19</i>
<i class="a">1</i>
<i><b>33</b></i>
<i class="a">3</i>
<i><b>35</b></i>
<i class="c">6</i>
<i class="c">5</i>
<i class="c">13</i>
<i class="c">17</i>
<i class="c">2</i>
<i><b class="u">06</b></i>
<i><b class="u">07</b></i>
<i class="c">1</i>
<i class="c">14</i>
<i class="c">5</i>
<i class="c">4</i>
<i class="c">3</i>
<i class="t">114</i><i class="t">27</i><i class="t">1:2:2</i><i class="t">4:1</i>
</div>
<div class="r" style="top:649px">
<i class="q">26039</i><i class="w">1</i>
<i class="a">19</i>
<i class="a">4</i>
<i class="a">6</i>
<i class="a">3</i>
<i class="a">6</i>
<i class="a">8</i>
<i class="a">2</i>
<i class="a">1</i>
<i><b>09</b></i>
<i class="a">12</i>
<i><b>11</b></i>
<i class="a">2</i>
<i class="b">2</i>
<i class="b">18</i>
<i class="b">11</i>
<i class="b">3</i>
<i class="b">1</i>
<i class="b">6</i>
<i class="b">7</i>
<i><b>20</b></i>
<i class="b">1</i>
<i class="b">4</i>
<i class="b">19</i>
<i class="b">14</i>
<i class="a">5</i>
<i><b>26</b></i>
<i><b>27</b></i>
<i class="a">2</i>
<i class="a">8</i>
<i class="a">4</i>
<i class="a">20</i>
<i class="a">2</i>
<i class="a">1</i>
<i class="a">4</i>
<i class="a">1</i>
<i class="c">7</i>
<i class="c">6</i>
<i class="c">14</i>
<i class="c">18</i>
<i class="c">3</i>
<i><b class="u">06</b></i>
<i class="c">1</i>
<i class="c">2</i>
<i><b class="u">09</b></i>
<i class="c">6</i>
<i class="c">5</i>
<i class="c">4</i>
<i class="t">93</i><i class="t">18</i><i class="t">2:1:2</i><i class="t">3:2</i>
</div>
<div class="r" style="top:671px;height:23px">
<i class="q">26040</i><i class="w">3</i>
<i class="a">20</i>
<i class="a">5</i>
<i class="a">7</i>
<i class="a">4</i>
<i class="a">7</i>
<i><b>06</b></i>
<i class="a">3</i>
<i class="a">2</i>
<i class="a">1</i>
<i class="a">13</i>
<i class="a">1</i>
<i><b>12</b></i>
<i><b>13</b></i>
<i class="b">19</i>
<i class="b">12</i>
<i class="b">4</i>
<i class="b">2</i>
<i class="b">7</i>
<i class="b">8</i>
<i class="b">1</i>
<i><b>21</b></i>
<i class="b">5</i>
<i class="b">20</i>
<i class="b">15</i>
<i class="a">6</i>
<i class="a">1</i>
<i class="a">1</i>
<i class="a">3</i>
<i class="a">9</i>
<i class="a">5</i>
<i class="a">21</i>
<i class="a">3</i>
<i class="a">2</i>
<i><b>34</b></i>
<i class="a">2</i>
<i class="c">8</i>
<i class="c">7</i>
<i class="c">15</i>
<i class="c">19</i>
<i class="c">4</i>
<i class="c">1</i>
<i class="c">2</i>
<i><b class="u">08</b></i>
<i><b class="u">09</b></i>
<i class="c">7</i>
<i class="c">6</i>
<i class="c">5</i>
<i class="t">86</i><i class="t">28</i><i class="t">2:2:1</i><i class="t">2:3</i>
</div>
<div class="r" style="top:694px">
<i class="q">26041</i><i class="w">6</i>
<i class="a e">21</i>
<i class="a e">6</i>
<i class="a e">8</i>
<i class="a e">5</i>
<i class="a e">8</i>
<i class="a e">1</i>
<i class="a e">4</i>
<i class="a e">3</i>
<i class="a e">2</i>
<i class="a e">14</i>
<i class="a e">2</i>
<i class="a e">1</i>
<i class="b">1</i>
<i class="b">20</i>
<i class="b">13</i>
<i class="b">5</i>
<i class="b">3</i>
<i class="b">8</i>
<i class="b">9</i>
<i class="b">2</i>
<i class="b">1</i>
<i class="b">6</i>
<i class="b">21</i>
<i><b>24</b></i>
<i><b>25</b></i>
<i class="a">2</i>
<i><b>27</b></i>
<i class="a">4</i>
<i><b>29</b></i>
<i class="a">6</i>
<i class="a">22</i>
<i class="a">4</i>
<i class="a">3</i>
<i><b>34</b></i>
<i class="a">3</i>
<i class="c">9</i>
<i><b class="u">02</b></i>
<i class="c">16</i>
<i class="c">20</i>
<i class="c">5</i>
<i><b class="u">06</b></i>
<i class="c">3</i>
<i class="c">1</i>
<i class="c">1</i>
<i class="c">8</i>
<i class="c">7</i>
<i class="c">6</i>
<i class="t">139</i><i class="t">10</i><i class="t">0:1:4</i><i class="t">3:2</i>
</div>
<div class="r" style="top:716px">
<i class="q">26042</i><i class="w">1</i>
<i class="a">22</i>
<i><b>02</b></i>
<i class="a">9</i>
<i class="a">6</i>
<i class="a">9</i>
<i class="a">2</i>
<i><b>07</b></i>
<i class="a">4</i>
<i class="a">3</i>
<i class="a">15</i>
<i class="a">3</i>
<i class="a">2</i>
<i><b>13</b></i>
<i class="b">21</i>
<i class="b">14</i>
<i class="b">6</i>
<i class="b">4</i>
<i class="b">9</i>
<i><b>19</b></i>
<i class="b">3</i>
<i class="b">2</i>
<i class="b">7</i>
<i class="b">22</i>
<i><b>24</b></i>
<i class="a e">1</i>
<i class="a e">3</i>
<i class="a e">1</i>
<i class="a e">5</i>
<i class="a e">1</i>
<i class="a e">7</i>
<i class="a e">23</i>
<i class="a e">5</i>
<i class="a e">4</i>
<i class="a e">1</i>
<i class="a e">4</i>
<i class="c">10</i>
<i class="c">1</i>
<i><b class="u">03</b></i>
<i class="c">21</i>
<i class="c">6</i>
<i class="c">1</i>
<i class="c">4</i>
<i><b class="u">08</b></i>
<i class="c">2</i>
<i class="c">9</i>
<i class="c">8</i>
<i class="c">7</i>
<i class="t">65</i><i class="t">22</i><i class="t">2:3:0</i><i class="t">3:2</i>
</div>
<div class="r" style="top:738px">
<i class="q">26043</i><i class="w">3</i>
<i class="a">23</i>
<i class="a">1</i>
<i class="a">10</i>
<i class="a">7</i>
<i class="a">10</i>
<i class="a">3</i>
<i class="a">1</i>
<i><b>08</b></i>
<i class="a">4</i>
<i class="a">16</i>
<i class="a">4</i>
<i><b>12</b></i>
<i class="b">1</i>
<i><b>14</b></i>
<i class="b">15</i>
<i class="b">7</i>
<i class="b">5</i>
<i class="b">10</i>
<i><b>19</b></i>
<i class="b">4</i>
<i class="b">3</i>
<i><b>22</b></i>
<i class="b">23</i>
<i class="b">1</i>
<i class="a e">2</i>
<i class="a e">4</i>
<i class="a e">2</i>
<i class="a e">6</i>
<i class="a e">2</i>
<i class="a e">8</i>
<i class="a e">24</i>
<i class="a e">6</i>
<i class="a e">5</i>
<i class="a e">2</i>
<i class="a e">5</i>
<i class="c">11</i>
<i class="c">2</i>
<i class="c">1</i>
<i class="c">22</i>
<i class="c">7</i>
<i class="c">2</i>
<i class="c">5</i>
<i class="c">1</i>
<i class="c">3</i>
<i class="c">10</i>
<i><b class="u">11</b></i>
<i><b class="u">12</b></i>
<i class="t">75</i><i class="t">14</i><i class="t">2:3:0</i><i class="t">1:4</i>
</div>
<div class="s" style="top:760px">
<i class="x"><span>选号</span></i>
<i>01</i>
<i>02</i>
<i>03</i>
<i>04</i>
<i>05</i>
<i>06</i>
<i>07</i>
<i>08</i>
<i>09</i>
<i>10</i>
<i>11</i>
<i>12</i>
<i>13</i>
<i>14</i>
<i>15</i>
<i>16</i>
<i>17</i>
<i>18</i>
<i>19</i>
<i>20</i>
<i>21</i>
<i>22</i>
<i>23</i>
<i>24</i>
<i>25</i>
<i>26</i>
<i>27</i>
<i>28</i>
<i>29</i>
<i>30</i>
<i>31</i>
<i>32</i>
<i>33</i>
<i>34</i>
<i>35</i>
<i>01</i>
<i>02</i>
<i>03</i>
<i>04</i>
<i>05</i>
<i>06</i>
<i>07</i>
<i>08</i>
<i>09</i>
<i>10</i>
<i>11</i>
<i>12</i>
</div>
<div class="s" style="top:782px">
<i class="x"><span>选号</span></i>
<i>01</i>
<i>02</i>
<i>03</i>
<i>04</i>
<i>05</i>
<i>06</i>
<i>07</i>
<i>08</i>
<i>09</i>
<i>10</i>
<i>11</i>
<i>12</i>
<i>13</i>
<i>14</i>
<i>15</i>
<i>16</i>
<i>17</i>
<i>18</i>
<i>19</i>
<i>20</i>
<i>21</i>
<i>22</i>
<i>23</i>
<i>24</i>
<i>25</i>
<i>26</i>
<i>27</i>
<i>28</i>
<i>29</i>
<i>30</i>
<i>31</i>
<i>32</i>
<i>33</i>
<i>34</i>
<i>35</i>
<i>01</i>
<i>02</i>
<i>03</i>
<i>04</i>
<i>05</i>
<i>06</i>
<i>07</i>
<i>08</i>
<i>09</i>
<i>10</i>
<i>11</i>
<i>12</i>
</div>
<div class="s" style="top:804px">
<i class="x"><span>选号</span></i>
<i>01</i>
<i>02</i>
<i>03</i>
<i>04</i>
<i>05</i>
<i>06</i>
<i>07</i>
<i>08</i>
<i>09</i>
<i>10</i>
<i>11</i>
<i>12</i>
<i>13</i>
<i>14</i>
<i>15</i>
<i>16</i>
<i>17</i>
<i>18</i>
<i>19</i>
<i>20</i>
<i>21</i>
<i>22</i>
<i>23</i>
<i>24</i>
<i>25</i>
<i>26</i>
<i>27</i>
<i>28</i>
<i>29</i>
<i>30</i>
<i>31</i>
<i>32</i>
<i>33</i>
<i>34</i>
<i>35</i>
<i>01</i>
<i>02</i>
<i>03</i>
<i>04</i>
<i>05</i>
<i>06</i>
<i>07</i>
<i>08</i>
<i>09</i>
<i>10</i>
<i>11</i>
<i>12</i>
</div>
<div class="s" style="top:826px">
<i class="x"><span>选号</span></i>
<i>01</i>
<i>02</i>
<i>03</i>
<i>04</i>
<i>05</i>
<i>06</i>
<i>07</i>
<i>08</i>
<i>09</i>
<i>10</i>
<i>11</i>
<i>12</i>
<i>13</i>
<i>14</i>
<i>15</i>
<i>16</i>
<i>17</i>
<i>18</i>
<i>19</i>
<i>20</i>
<i>21</i>
<i>22</i>
<i>23</i>
<i>24</i>
<i>25</i>
<i>26</i>
<i>27</i>
<i>28</i>
<i>29</i>
<i>30</i>
<i>31</i>
<i>32</i>
<i>33</i>
<i>34</i>
<i>35</i>
<i>01</i>
<i>02</i>
<i>03</i>
<i>04</i>
<i>05</i>
<i>06</i>
<i>07</i>
<i>08</i>
<i>09</i>
<i>10</i>
<i>11</i>
<i>12</i>
</div>
<div class="s" style="top:848px">
<i class="x"><span>选号</span></i>
<i>01</i>
<i>02</i>
<i>03</i>
<i>04</i>
<i>05</i>
<i>06</i>
<i>07</i>
<i>08</i>
<i>09</i>
<i>10</i>
<i>11</i>
<i>12</i>
<i>13</i>
<i>14</i>
<i>15</i>
<i>16</i>
<i>17</i>
<i>18</i>
<i>19</i>
<i>20</i>
<i>21</i>
<i>22</i>
<i>23</i>
<i>24</i>
<i>25</i>
<i>26</i>
<i>27</i>
<i>28</i>
<i>29</i>
<i>30</i>
<i>31</i>
<i>32</i>
<i>33</i>
<i>34</i>
<i>35</i>
<i>01</i>
<i>02</i>
<i>03</i>
<i>04</i>
<i>05</i>
<i>06</i>
<i>07</i>
<i>08</i>
<i>09</i>
<i>10</i>
<i>11</i>
<i>12</i>
</div>
<div class="s" style="top:870px">
<i class="x"><span>选号</span></i>
<i>01</i>
<i>02</i>
<i>03</i>
<i>04</i>
<i>05</i>
<i>06</i>
<i>07</i>
<i>08</i>
<i>09</i>
<i>10</i>
<i>11</i>
<i>12</i>
<i>13</i>
<i>14</i>
<i>15</i>
<i>16</i>
<i>17</i>
<i>18</i>
<i>19</i>
<i>20</i>
<i>21</i>
<i>22</i>
<i>23</i>
<i>24</i>
<i>25</i>
<i>26</i>
<i>27</i>
<i>28</i>
<i>29</i>
<i>30</i>
<i>31</i>
<i>32</i>
<i>33</i>
<i>34</i>
<i>35</i>
<i>01</i>
<i>02</i>
<i>03</i>
<i>04</i>
<i>05</i>
<i>06</i>
<i>07</i>
<i>08</i>
<i>09</i>
<i>10</i>
<i>11</i>
<i>12</i>
</div>
<div class="vl" style="left:103px;top:99px;height:791px"></div>
<div class="hv" style="left:103px"></div>
<div class="vl" style="left:126px;top:99px;height:791px"></div>
<div class="hv" style="left:126px"></div>
<div class="vl" style="left:149px;top:99px;height:791px"></div>
<div class="hv" style="left:149px"></div>
<div class="vl" style="left:172px;top:99px;height:791px"></div>
<div class="hv" style="left:172px"></div>
<div class="vl" style="left:195px;top:99px;height:791px"></div>
<div class="hv" style="left:195px"></div>
<div class="vl" style="left:218px;top:99px;height:791px"></div>
<div class="hv" style="left:218px"></div>
<div class="vl" style="left:241px;top:99px;height:791px"></div>
<div class="hv" style="left:241px"></div>
<div class="vl" style="left:264px;top:99px;height:791px"></div>
<div class="hv" style="left:264px"></div>
<div class="vl" style="left:287px;top:99px;height:791px"></div>
<div class="hv" style="left:287px"></div>
<div class="vl" style="left:310px;top:99px;height:791px"></div>
<div class="hv" style="left:310px"></div>
<div class="vl" style="left:333px;top:99px;height:791px"></div>
<div class="hv" style="left:333px"></div>
<div class="vl" style="left:379px;top:99px;height:791px"></div>
<div class="hv" style="left:379px"></div>
<div class="vl" style="left:402px;top:99px;height:791px"></div>
<div class="hv" style="left:402px"></div>
<div class="vl" style="left:425px;top:99px;height:791px"></div>
<div class="hv" style="left:425px"></div>
<div class="vl" style="left:448px;top:99px;height:791px"></div>
<div class="hv" style="left:448px"></div>
<div class="vl" style="left:471px;top:99px;height:791px"></div>
<div class="hv" style="left:471px"></div>
<div class="vl" style="left:494px;top:99px;height:791px"></div>
<div class="hv" style="left:494px"></div>
<div class="vl" style="left:517px;top:99px;height:791px"></div>
<div class="hv" style="left:517px"></div>
<div class="vl" style="left:540px;top:99px;height:791px"></div>
<div class="hv" style="left:540px"></div>
<div class="vl" style="left:563px;top:99px;height:791px"></div>
<div class="hv" style="left:563px"></div>
<div class="vl" style="left:586px;top:99px;height:791px"></div>
<div class="hv" style="left:586px"></div>
<div class="vl" style="left:609px;top:99px;height:791px"></div>
<div class="hv" style="left:609px"></div>
<div class="vl" style="left:655px;top:99px;height:791px"></div>
<div class="hv" style="left:655px"></div>
<div class="vl" style="left:678px;top:99px;height:791px"></div>
<div class="hv" style="left:678px"></div>
<div class="vl" style="left:701px;top:99px;height:791px"></div>
<div class="hv" style="left:701px"></div>
<div class="vl" style="left:724px;top:99px;height:791px"></div>
<div class="hv" style="left:724px"></div>
<div class="vl" style="left:747px;top:99px;height:791px"></div>
<div class="hv" style="left:747px"></div>
<div class="vl" style="left:770px;top:99px;height:791px"></div>
<div class="hv" style="left:770px"></div>
<div class="vl" style="left:793px;top:99px;height:791px"></div>
<div class="hv" style="left:793px"></div>
<div class="vl" style="left:816px;top:99px;height:791px"></div>
<div class="hv" style="left:816px"></div>
<div class="vl" style="left:839px;top:99px;height:791px"></div>
<div class="hv" style="left:839px"></div>
<div class="vl" style="left:862px;top:99px;height:791px"></div>
<div class="hv" style="left:862px"></div>
<div class="vl" style="left:908px;top:99px;height:791px"></div>
<div class="hv" style="left:908px"></div>
<div class="vl" style="left:931px;top:99px;height:791px"></div>
<div class="hv" style="left:931px"></div>
<div class="vl" style="left:954px;top:99px;height:791px"></div>
<div class="hv" style="left:954px"></div>
<div class="vl" style="left:977px;top:99px;height:791px"></div>
<div class="hv" style="left:977px"></div>
<div class="vl" style="left:1000px;top:99px;height:791px"></div>
<div class="hv" style="left:1000px"></div>
<div class="vl" style="left:1023px;top:99px;height:791px"></div>
<div class="hv" style="left:1023px"></div>
<div class="vl" style="left:1046px;top:99px;height:791px"></div>
<div class="hv" style="left:1046px"></div>
<div class="vl" style="left:1069px;top:99px;height:791px"></div>
<div class="hv" style="left:1069px"></div>
<div class="vl" style="left:1092px;top:99px;height:791px"></div>
<div class="hv" style="left:1092px"></div>
<div class="vl" style="left:1115px;top:99px;height:791px"></div>
<div class="hv" style="left:1115px"></div>
<div class="vl" style="left:1138px;top:99px;height:791px"></div>
<div class="hv" style="left:1138px"></div>
<div class="vt" style="left:55px;top:59px;height:701px"></div>
<div class="vt" style="left:78px;top:59px;height:831px"></div>
<div class="vt" style="left:354px;top:59px;height:831px"></div>
<div class="vt" style="left:630px;top:59px;height:831px"></div>
<div class="vt" style="left:883px;top:59px;height:831px"></div>
<div class="vt" style="left:1159px;top:59px;height:831px"></div>
<div class="vt" style="left:1209px;top:59px;height:701px"></div>
<div class="vt" style="left:1259px;top:59px;height:701px"></div>
<div class="vt" style="left:1309px;top:59px;height:701px"></div>
<div class="vt" style="left:1359px;top:59px;height:701px"></div>
<svg width="1357" height="890" style="z-index:5">
<polygon fill="#444" points="83.0,110.7 338.6,113.1 337.0,116.1 348.0,111.5 337.0,106.7 338.6,109.8 83.0,109.3"/>
<polygon fill="#444" points="637.0,132.7 872.6,135.9 871.0,138.9 882.0,134.3 871.0,129.5 872.6,132.6 637.0,131.3"/>
<polygon fill="#444" points="647.0,153.7 872.6,159.2 870.9,162.2 882.0,157.7 871.1,152.8 872.6,155.9 647.0,152.3"/>
<polygon fill="#444" points="639.6,263.7 863.3,265.1 861.7,268.2 872.7,263.5 861.7,258.8 863.3,261.8 639.6,262.3"/>
<polygon fill="#444" points="361.3,309.0 610.6,312.1 609.0,315.1 620.0,310.5 609.0,305.7 610.6,308.8 361.3,307.6"/>
<polygon fill="#444" points="640.6,330.4 868.6,332.3 867.0,335.4 878.0,330.7 867.0,326.0 868.6,329.0 640.6,329.0"/>
<polygon fill="#444" points="635.0,396.5 868.6,398.6 867.0,401.6 878.0,397.0 867.0,392.2 868.6,395.3 635.0,395.1"/>
<polygon fill="#444" points="91.3,418.7 340.6,418.7 339.0,421.7 350.0,417.0 339.0,412.3 340.6,415.4 91.3,417.3"/>
<polygon fill="#444" points="638.0,535.0 875.0,534.2 873.4,537.3 884.4,532.5 873.4,527.9 875.0,530.9 638.0,533.6"/>
<polygon fill="#444" points="358.0,553.2 615.1,555.9 613.5,558.9 624.5,554.3 613.5,549.5 615.1,552.6 358.0,551.8"/>
<polygon fill="#444" points="83.0,702.7 341.3,707.8 339.6,710.8 350.7,706.3 339.8,701.4 341.3,704.5 83.0,701.3"/>
<polygon fill="#444" points="640.0,727.7 871.3,729.2 869.7,732.3 880.7,727.6 869.7,722.9 871.3,725.9 640.0,726.3"/>
<polygon fill="#444" points="639.6,754.1 871.6,754.3 870.0,757.3 881.0,752.6 870.0,747.9 871.6,751.0 639.6,752.7"/>
<polygon fill="#f54545" points="90.0,773.5 604.0,772.4 602.0,775.8 613.0,770.8 602.0,765.8 604.0,769.2 90.0,771.7"/>
<polygon fill="#f54545" points="213.0,724.2 252.2,763.6 248.9,764.1 258.0,767.7 254.3,758.7 253.9,761.9 213.8,723.4"/>
<polygon fill="#f54545" points="393.5,718.3 332.6,763.3 332.2,759.5 325.7,770.7 338.3,767.4 334.7,766.0 394.3,719.3"/>
<polygon fill="#f54545" points="349.6,725.1 401.6,765.6 398.2,766.7 409.7,769.7 403.6,759.5 403.5,763.0 350.4,724.1"/>
<polygon fill="#f54545" points="494.5,710.5 495.7,771.0 493.1,769.1 497.4,779.0 501.1,768.9 498.7,771.0 496.3,710.5"/>
<polygon fill="#f54545" points="627.7,725.5 574.7,757.8 574.6,753.9 568.0,764.0 580.0,762.3 576.5,760.5 628.3,726.5"/>
</svg>
</body></html>
